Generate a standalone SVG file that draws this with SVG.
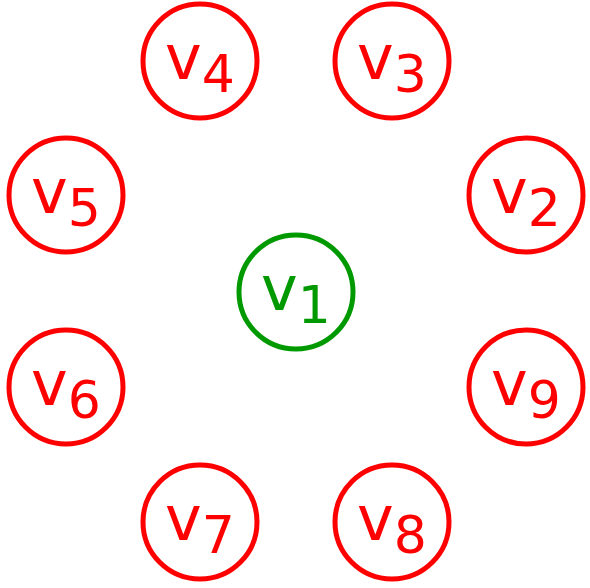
<svg xmlns="http://www.w3.org/2000/svg" width="590" height="588" viewBox="0 0 590 588">
<style>
.n circle{fill:#fff;stroke-width:5}
.r circle{stroke:#ff0000}
.r text{fill:#ff0000}
.g circle{stroke:#009900}
.g text{fill:#009900}
text{font-family:"DejaVu Sans",Verdana,sans-serif;font-size:62px;text-anchor:middle}
.s{font-size:52px}
</style>
<rect width="590" height="588" fill="#fff"/>
<g id="connectors"></g>
<g id="v1" class="n g"><circle cx="296" cy="292" r="57"/><text x="296" y="310">v<tspan class="s" dy="13">1</tspan></text></g>
<g id="v2" class="n r"><circle cx="526" cy="195" r="57"/><text x="526" y="213">v<tspan class="s" dy="13">2</tspan></text></g>
<g id="v3" class="n r"><circle cx="392" cy="61" r="57"/><text x="392" y="79">v<tspan class="s" dy="13">3</tspan></text></g>
<g id="v4" class="n r"><circle cx="200" cy="61" r="57"/><text x="200" y="79">v<tspan class="s" dy="13">4</tspan></text></g>
<g id="v5" class="n r"><circle cx="66" cy="195" r="57"/><text x="66" y="213">v<tspan class="s" dy="13">5</tspan></text></g>
<g id="v6" class="n r"><circle cx="66" cy="387" r="57"/><text x="66" y="405">v<tspan class="s" dy="13">6</tspan></text></g>
<g id="v7" class="n r"><circle cx="200" cy="522" r="57"/><text x="200" y="540">v<tspan class="s" dy="13">7</tspan></text></g>
<g id="v8" class="n r"><circle cx="392" cy="522" r="57"/><text x="392" y="540">v<tspan class="s" dy="13">8</tspan></text></g>
<g id="v9" class="n r"><circle cx="526" cy="387" r="57"/><text x="526" y="405">v<tspan class="s" dy="13">9</tspan></text></g>
</svg>
